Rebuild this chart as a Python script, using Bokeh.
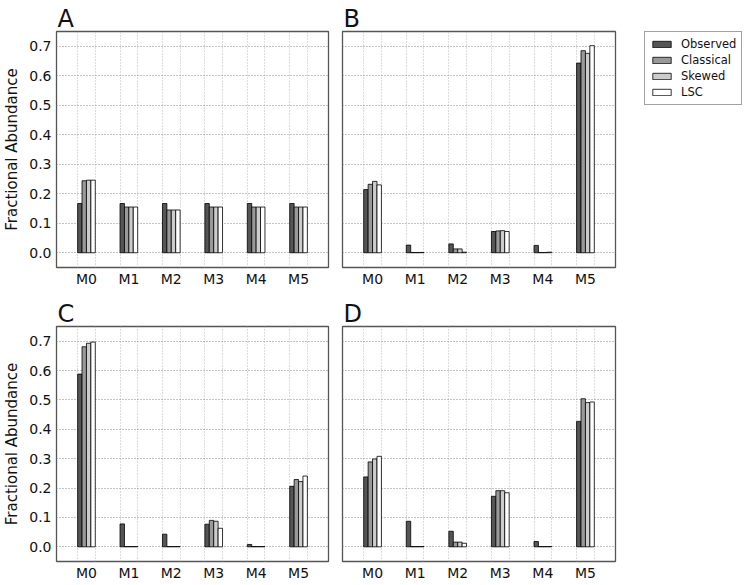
from bokeh.plotting import figure
from bokeh.layouts import row, column
from bokeh.models import Range1d, FixedTicker, Legend, LegendItem
from bokeh.embed import file_html
from bokeh.resources import INLINE

# ---------------- data ----------------
categories = ["M0", "M1", "M2", "M3", "M4", "M5"]
series_names = ["Observed", "Classical", "Skewed", "LSC"]
series_colors = ["#555555", "#999999", "#cccccc", "#ffffff"]
y_ticks = [0.0, 0.1, 0.2, 0.3, 0.4, 0.5, 0.6, 0.7]
y_tick_labels = ["0.0", "0.1", "0.2", "0.3", "0.4", "0.5", "0.6", "0.7"]
panel_letters = ["A", "B", "C", "D"]

a_observed = [0.167, 0.167, 0.167, 0.167, 0.167, 0.167]
a_classical = [0.244, 0.155, 0.145, 0.155, 0.155, 0.155]
a_skewed = [0.246, 0.155, 0.145, 0.155, 0.155, 0.155]
a_lsc = [0.246, 0.155, 0.145, 0.155, 0.155, 0.155]

b_observed = [0.214, 0.026, 0.030, 0.072, 0.025, 0.643]
b_classical = [0.232, 0.001, 0.013, 0.074, 0.001, 0.685]
b_skewed = [0.242, 0.001, 0.013, 0.075, 0.001, 0.676]
b_lsc = [0.230, 0.001, 0.002, 0.072, 0.002, 0.702]

c_observed = [0.588, 0.078, 0.043, 0.077, 0.008, 0.206]
c_classical = [0.681, 0.001, 0.001, 0.090, 0.001, 0.229]
c_skewed = [0.693, 0.001, 0.001, 0.087, 0.001, 0.222]
c_lsc = [0.697, 0.001, 0.001, 0.063, 0.001, 0.241]

d_observed = [0.238, 0.087, 0.053, 0.172, 0.018, 0.427]
d_classical = [0.289, 0.001, 0.016, 0.191, 0.001, 0.504]
d_skewed = [0.299, 0.001, 0.016, 0.191, 0.001, 0.491]
d_lsc = [0.308, 0.001, 0.012, 0.184, 0.001, 0.493]

# ---------------- style ----------------
FONT = "DejaVu Sans"
TEXT_COLOR = "#111111"
idx = list(range(len(categories)))
bar_w = 0.104
group_half = bar_w * len(series_names) / 2
x_pad = 0.706
Y_MIN, Y_MAX = -0.05, 0.75


def make_panel(letter, values, show_y, frame_w, frame_h, top, bottom, left, right):
    p = figure(frame_width=frame_w, frame_height=frame_h,
               output_backend="svg", toolbar_location=None,
               x_range=Range1d(-x_pad, len(categories) - 1 + x_pad),
               y_range=Range1d(Y_MIN, Y_MAX),
               min_border_left=left, min_border_right=right,
               min_border_top=top, min_border_bottom=bottom)
    p.background_fill_color = "white"
    p.border_fill_color = "white"
    p.outline_line_color = "#555555"
    p.outline_line_width = 1.3

    # panel letter as title
    p.title.text = letter
    p.title.text_font = FONT
    p.title.text_font_size = "24px"
    p.title.text_font_style = "normal"
    p.title.text_color = TEXT_COLOR
    p.title.text_line_height = 0.8
    p.title.align = "left"
    p.title.standoff = -3
    p.title.offset = 1

    # grids
    p.ygrid.ticker = FixedTicker(ticks=y_ticks)
    p.ygrid.grid_line_color = "#888888"
    p.ygrid.grid_line_dash = "1 2"
    p.ygrid.grid_line_width = 1
    edges = [i - group_half for i in idx] + [i + group_half for i in idx]
    p.xgrid.ticker = FixedTicker(ticks=sorted(edges))
    p.xgrid.grid_line_color = "#bbbbbb"
    p.xgrid.grid_line_dash = "1 2"
    p.xgrid.grid_line_width = 1

    for k, (name, color, vals) in enumerate(zip(series_names, series_colors, values)):
        xs = [i - group_half + bar_w * (k + 0.5) for i in idx]
        p.vbar(x=xs, top=vals, bottom=0, width=bar_w, fill_color=color,
               line_color="black", line_width=0.8)

    # axes
    p.xaxis.ticker = FixedTicker(ticks=idx)
    p.xaxis.major_label_overrides = {i: c for i, c in zip(idx, categories)}
    p.yaxis.ticker = FixedTicker(ticks=y_ticks)
    p.yaxis.major_label_overrides = {t: s for t, s in zip(y_ticks, y_tick_labels)}
    for ax in (p.xaxis, p.yaxis):
        ax.axis_line_color = None
        ax.major_tick_line_color = None
        ax.minor_tick_line_color = None
        ax.major_tick_out = 0
        ax.major_tick_in = 0
        ax.major_label_text_font = FONT
        ax.major_label_text_font_size = "14px"
        ax.major_label_text_color = TEXT_COLOR
    p.xaxis.major_label_standoff = 3
    p.yaxis.major_label_standoff = 5
    if show_y:
        p.yaxis.axis_label = "Fractional Abundance"
        p.yaxis.axis_label_text_font = FONT
        p.yaxis.axis_label_text_font_size = "15px"
        p.yaxis.axis_label_text_font_style = "normal"
        p.yaxis.axis_label_text_color = TEXT_COLOR
        p.yaxis.axis_label_standoff = 5
    else:
        p.yaxis.visible = False
    return p


pA = make_panel(panel_letters[0], [a_observed, a_classical, a_skewed, a_lsc], True,
                272, 236, 20, 32, 53, 7)
pB = make_panel(panel_letters[1], [b_observed, b_classical, b_skewed, b_lsc], False,
                273, 236, 20, 32, 7, 7)
pC = make_panel(panel_letters[2], [c_observed, c_classical, c_skewed, c_lsc], True,
                272, 235, 20, 19, 53, 7)
pD = make_panel(panel_letters[3], [d_observed, d_classical, d_skewed, d_lsc], False,
                273, 235, 20, 19, 7, 7)

# legend panel: its frame's top-left corner is the legend's top-left corner
nan = float("nan")
pL = figure(frame_width=104, frame_height=236, output_backend="svg", toolbar_location=None,
            x_range=Range1d(0, 1), y_range=Range1d(0, 1),
            x_axis_type=None, y_axis_type=None,
            min_border_left=22, min_border_right=0, min_border_top=31, min_border_bottom=32)
pL.outline_line_color = None
pL.xgrid.visible = False
pL.ygrid.visible = False
pL.background_fill_color = "white"
pL.border_fill_color = "white"
leg_renderers = [pL.vbar(x=[nan], top=[nan], bottom=[nan], width=0.1, fill_color=c,
                         line_color="black", line_width=0.8)
                 for c in series_colors]
legend = Legend(items=[LegendItem(label=n, renderers=[r])
                       for n, r in zip(series_names, leg_renderers)],
                location="top_left")
legend.label_text_font = FONT
legend.label_text_font_size = "11.5px"
legend.label_text_color = TEXT_COLOR
legend.glyph_width = 23
legend.glyph_height = 8
legend.label_height = 14
legend.label_standoff = 8
legend.spacing = 2
legend.padding = 5
legend.margin = 0
legend.border_line_color = "#444444"
legend.border_line_width = 1
legend.background_fill_alpha = 1.0
pL.add_layout(legend)

layout = column(row(pA, pB, pL), row(pC, pD))

open("out.html", "w").write(file_html(layout, INLINE))
